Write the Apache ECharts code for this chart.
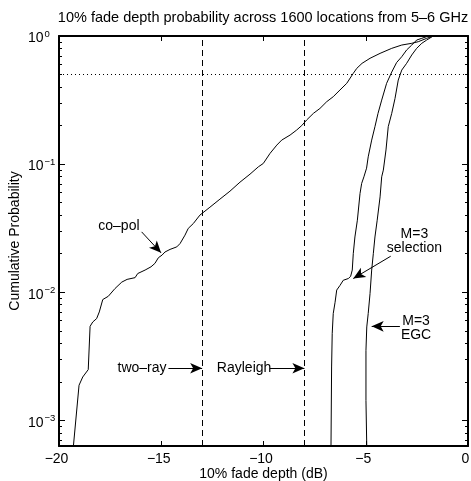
<!DOCTYPE html>
<html><head><meta charset="utf-8">
<script src="https://cdn.jsdelivr.net/npm/echarts@6/dist/echarts.min.js"></script>
<style>html,body{margin:0;padding:0;background:#fff}#c{width:471px;height:481px}</style>
</head><body><div id="c"></div>
<script>
// ---- data (x: 10% fade depth in dB, p: cumulative probability) ----
const copolX = [-19.30,-19.02,-18.84,-18.57,-18.48,-18.35,-18.16,-18.03,-17.86,-17.59,-17.26,-16.93,-16.67,-16.28,-16.15,-15.79,-15.50,-15.31,-15.14,-14.96,-14.82,-14.57,-14.24,-14.08,-13.84,-13.68,-13.43,-13.11,-12.62,-12.13,-11.64,-11.15,-10.66,-10.25,-10.01,-9.68,-9.35,-9.11,-8.70,-8.38,-8.13,-7.89,-7.56,-7.24,-6.91,-6.59,-6.26,-5.93,-5.61,-5.44,-5.18,-4.79,-4.30,-3.73,-3.24,-2.75,-2.43,-2.02,-1.70,-1.0];
const copolP = [0.00062,0.00188,0.00218,0.00249,0.00542,0.00586,0.00623,0.00702,0.00877,0.0093,0.0107,0.0120,0.0126,0.0130,0.0140,0.0149,0.0158,0.0168,0.0186,0.0195,0.0206,0.0216,0.0226,0.0240,0.0279,0.0315,0.0344,0.0400,0.0461,0.0533,0.0615,0.0723,0.0835,0.0953,0.1012,0.1213,0.1407,0.154,0.1686,0.1844,0.200,0.221,0.249,0.272,0.307,0.336,0.379,0.427,0.511,0.559,0.612,0.670,0.732,0.801,0.850,0.877,0.903,0.959,1,1];
const selX = [-6.70,-6.67,-6.64,-6.59,-6.50,-6.42,-6.26,-6.10,-5.85,-5.74,-5.66,-5.61,-5.53,-5.41,-5.28,-5.20,-5.09,-4.96,-4.88,-4.71,-4.55,-4.40,-4.22,-3.98,-3.73,-3.49,-3.24,-3.00,-2.75,-2.51,-2.26,-1.94];
const selP = [0.00062,0.00261,0.00475,0.00682,0.00835,0.0104,0.0113,0.0124,0.0128,0.0133,0.0149,0.0200,0.0270,0.0365,0.0590,0.0707,0.0796,0.0930,0.114,0.154,0.196,0.249,0.316,0.427,0.523,0.621,0.689,0.778,0.850,0.930,0.959,1];
const egcX = [-4.95,-4.99,-4.99,-4.95,-4.88,-4.79,-4.71,-4.63,-4.55,-4.44,-4.30,-4.22,-4.14,-4.01,-3.90,-3.73,-3.57,-3.41,-3.24,-3.00,-2.75,-2.51,-2.26,-2.02,-1.70];
const egcP = [0.00062,0.00143,0.00352,0.00536,0.00682,0.00977,0.0149,0.0200,0.0270,0.0365,0.0555,0.0796,0.0898,0.129,0.196,0.249,0.325,0.453,0.542,0.612,0.711,0.801,0.877,0.930,1];

// reference lines
const refLinesX = [-13, -8];
const refLineP = 0.5;

// axes
const xMin = -20, xMax = 0, xStep = 5;
const yMinExp = -3.2, yMaxExp = 0;
const yDecades = [-3, -2, -1, 0];

// annotations (text anchors + arrows, in data coordinates)
const annoText  = ['co–pol', 'two–ray', 'Rayleigh', 'M=3\nselection', 'M=3\nEGC'];
const annoTextX = [-17.07, -15.94, -10.95, -2.62, -2.54];
const annoTextP = [0.0328, 0.00255, 0.00255, 0.0252, 0.00528];
const arrowFromX = [-15.96, -14.65, -9.68, -3.78, -3.33];
const arrowFromP = [0.0296, 0.00255, 0.00255, 0.0191, 0.00542];
const arrowToX   = [-15.01, -13.0, -8.0, -5.61, -4.71];
const arrowToP   = [0.0203, 0.00255, 0.00255, 0.0128, 0.00542];

const FONT = 'Liberation Sans, Arial, Helvetica, sans-serif';
const zip = (xs, ps) => xs.map((x, i) => [x, ps[i]]);
const minus = v => (v < 0 ? '\u2212' + (-v) : String(v));

const minorVals = [];
for (let d = -4; d < 0; d++) for (let k = 2; k <= 9; k++) {
  const v = Math.log10(k) + d;
  if (v > yMinExp && v < yMaxExp) minorVals.push(v);
}

const lineStyle = { color: '#000', width: 1 };
const mkLine = (name, data) => ({
  name, type: 'line', data, showSymbol: false, symbol: 'none',
  lineStyle, itemStyle: { color: '#000' }, xAxisIndex: 0, yAxisIndex: 0, clip: true, animation: false, silent: true
});

const markLines = [];
refLinesX.forEach(x => markLines.push({ xAxis: x, lineStyle: { type: [6, 4], color: '#000', width: 1 } }));
markLines.push({ yAxis: refLineP, lineStyle: { type: [1, 3], color: '#000', width: 1 } });
annoText.forEach((t, i) => markLines.push([
  { coord: [arrowFromX[i], arrowFromP[i]], symbol: 'none', lineStyle: { type: 'solid', color: '#000', width: 1 } },
  { coord: [arrowToX[i], arrowToP[i]], symbol: 'arrow', symbolSize: [8, 12] }
]));

const markPts = annoText.map((t, i) => ({
  coord: [annoTextX[i], annoTextP[i]], symbol: 'circle', symbolSize: 0,
  label: { show: true, position: 'inside', formatter: t, color: '#000', fontSize: 14,
           fontFamily: FONT, lineHeight: 14, align: 'center', verticalAlign: 'middle' }
}));

const tickAxis = (pos, vals, len, showLine) => ({
  type: 'value', min: yMinExp, max: yMaxExp, position: pos,
  axisLine: { show: showLine, onZero: false, lineStyle: { color: '#000', width: 2 } },
  axisTick: { show: true, inside: true, length: len, customValues: vals, lineStyle: { color: '#000', width: 1 } },
  axisLabel: { show: false }, splitLine: { show: false }
});

const chart = echarts.init(document.getElementById('c'), null, { renderer: 'canvas' });
chart.setOption({
  animation: false,
  backgroundColor: '#fff',
  title: {
    text: '10% fade depth probability across 1600 locations from 5–6 GHz',
    left: 263, top: 10, textAlign: 'center', padding: 0,
    textStyle: { fontFamily: FONT, fontSize: 14.5, fontWeight: 'normal', color: '#000' }
  },
  grid: { left: 59, right: 3, top: 36, bottom: 35, containLabel: false, outerBoundsMode: 'none' },
  xAxis: [
    {
      type: 'value', min: xMin, max: xMax, interval: xStep, position: 'bottom',
      axisLine: { onZero: false, lineStyle: { color: '#000', width: 2 } },
      axisTick: { inside: true, length: 5, lineStyle: { color: '#000', width: 1 } },
      axisLabel: { fontFamily: FONT, fontSize: 14, color: '#000', margin: 6, padding: [0, 5, 0, 0], formatter: minus },
      splitLine: { show: false },
      name: '10% fade depth (dB)', nameLocation: 'middle', nameGap: 21, nameMoveOverlap: false,
      nameTextStyle: { fontFamily: FONT, fontSize: 14, color: '#000' }
    },
    {
      type: 'value', min: xMin, max: xMax, interval: xStep, position: 'top',
      axisLine: { onZero: false, lineStyle: { color: '#000', width: 2 } },
      axisTick: { inside: true, length: 5, lineStyle: { color: '#000', width: 1 } },
      axisLabel: { show: false }, splitLine: { show: false }
    }
  ],
  yAxis: [
    { type: 'log', logBase: 10, min: Math.pow(10, yMinExp), max: Math.pow(10, yMaxExp), show: false },
    {
      type: 'value', min: yMinExp, max: yMaxExp, position: 'left',
      axisLine: { show: true, onZero: false, lineStyle: { color: '#000', width: 2 } },
      axisTick: { show: true, inside: true, length: 6, customValues: yDecades, lineStyle: { color: '#000', width: 1 } },
      axisLabel: {
        customValues: yDecades, margin: 31, align: 'left',
        formatter: v => '{b|10}{s|' + minus(Math.round(v)) + '}',
        rich: {
          b: { fontFamily: FONT, fontSize: 14, color: '#000', lineHeight: 14, padding: [5, 0, 0, 0] },
          s: { fontFamily: FONT, fontSize: 9.5, color: '#000', lineHeight: 10, verticalAlign: 'top', padding: [0, 0, 9, 1] }
        }
      },
      splitLine: { show: false },
      name: 'Cumulative Probability', nameLocation: 'middle', nameGap: 37, nameMoveOverlap: false,
      nameTextStyle: { fontFamily: FONT, fontSize: 14, color: '#000' }
    },
    tickAxis('left', minorVals, 3, false),
    tickAxis('right', yDecades, 6, true),
    tickAxis('right', minorVals, 3, false)
  ],
  series: [
    mkLine('co-pol', zip(copolX, copolP)),
    mkLine('M=3 selection', zip(selX, selP)),
    Object.assign(mkLine('M=3 EGC', zip(egcX, egcP)), {
      markLine: { silent: true, animation: false, symbol: 'none', label: { show: false },
                  lineStyle: { type: 'solid', color: '#000', width: 1 }, itemStyle: { color: '#000' }, data: markLines },
      markPoint: { silent: true, animation: false, data: markPts }
    })
  ]
});
</script></body></html>
